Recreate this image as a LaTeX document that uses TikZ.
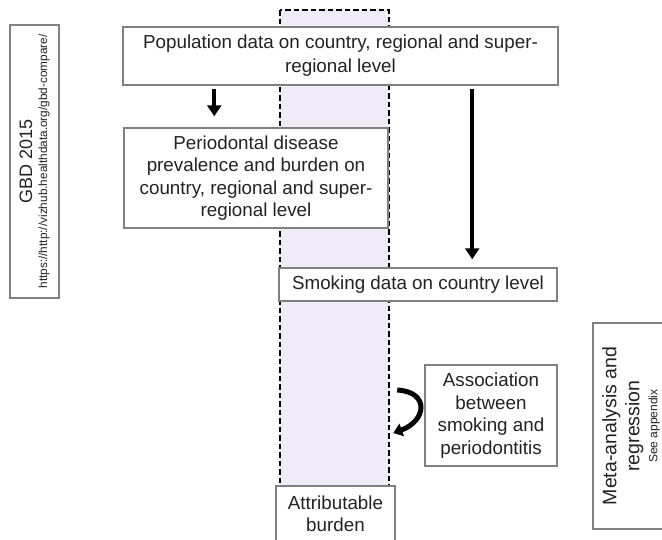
\documentclass[tikz,border=0pt]{standalone}
\usepackage{fontspec}
\setmainfont{Liberation Sans}
\usetikzlibrary{arrows.meta,calc}
\definecolor{lav}{RGB}{239,236,247}
\definecolor{bord}{RGB}{128,128,128}
\definecolor{txt}{RGB}{35,35,35}
\tikzset{
  box/.style={draw=bord,line width=1.5pt,fill=white,inner sep=0pt,align=center,text=txt,font=\fontsize{18.8}{22.5}\selectfont},
  arr/.style={line width=4pt,-{Triangle[width=14pt,length=11pt]}},
}
\begin{document}
\begin{tikzpicture}[x=1pt,y=-1pt]
\useasboundingbox (0,0) rectangle (662,539);
\draw[fill=lav,line width=2.2pt,dash pattern=on 5.5pt off 3pt] (280,10) rectangle (389,548);
\node[box,minimum width=435,minimum height=58,font=\fontsize{18.8}{24}\selectfont] (pop) at (340.5,56) {Population data on country, regional and super-\\regional level};
\node[box,minimum width=264,minimum height=100] (per) at (256,178) {Periodontal disease\\prevalence and burden on\\country, regional and super-\\regional level};
\node[box,minimum width=278,minimum height=33] (smk) at (418,284.5) {Smoking data on country level};
\node[box,minimum width=132,minimum height=101] (ass) at (491,415.5) {Association\\between\\smoking and\\periodontitis};
\node[box,minimum width=119,minimum height=56] (att) at (335.5,514) {Attributable\\burden};
\node[box,minimum width=273,minimum height=49,rotate=90,font=\fontsize{11.8}{15}\selectfont] (gbd) at (34.5,161.5) {{\fontsize{18}{18}\selectfont GBD 2015}\\https://http://vizhub.healthdata.org/gbd-compare/};
\node[box,minimum width=206,minimum height=76,rotate=90,font=\fontsize{19.5}{23}\selectfont] (meta) at (631,426) {Meta-analysis and\\regression\\[-5pt]{\fontsize{12}{14}\selectfont See appendix}};
\draw[arr] ($(pop.south west)+(92,3)$) -- ($(per.north west)+(91,-11)$);
\draw[arr] ($(pop.south west)+(350,3)$) -- ($(smk.north west)+(194,-8)$);
\coordinate (c1) at ($(ass.west)+(-27,-25.5)$);
\coordinate (c2) at ($(ass.west)+(-31,17.5)$);
\draw[line width=5pt,-{Triangle[width=13pt,length=9pt]}] (c1) .. controls ($(c1)+(33,2)$) and ($(c2)+(33,-12)$) .. (c2);
\end{tikzpicture}
\end{document}
